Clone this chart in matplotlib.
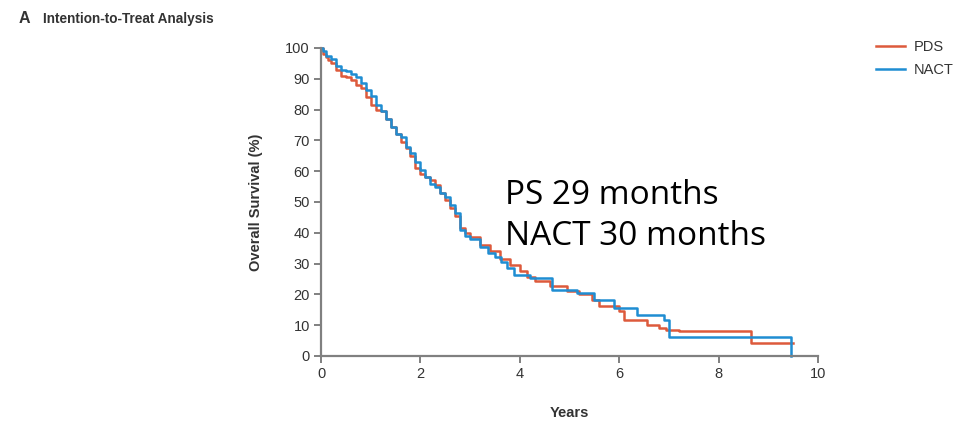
import matplotlib.pyplot as plt
import matplotlib.ticker as ticker

# 全体のフォント
plt.rcParams['font.family'] = ['Liberation Sans', 'DejaVu Sans']

# 読み取った生存曲線 (年, %)
pds_years = [0, 0.05, 0.1, 0.15, 0.2, 0.3, 0.4, 0.5, 0.6, 0.7, 0.8, 0.9, 1.0, 1.1, 1.2,
             1.3, 1.4, 1.5, 1.6, 1.7, 1.8, 1.9, 2.0, 2.1, 2.2, 2.3, 2.4, 2.5, 2.6,
             2.7, 2.8, 2.9, 3.0, 3.2, 3.4, 3.6, 3.8, 4.0, 4.15, 4.3, 4.6, 4.95,
             5.2, 5.45, 5.6, 6.0, 6.1, 6.55, 6.8, 6.95, 7.2, 8.65, 9.5]
pds_surv = [100, 98, 97, 96, 95, 93, 91, 90.5, 89.5, 88, 87, 84, 81.5, 80, 79.5,
            77, 74.5, 72, 69.5, 67.5, 65, 61, 59, 58, 57, 55.5, 53, 50.5, 48,
            45.5, 41.5, 40, 38.5, 36, 34, 31.5, 29.5, 27.5, 25.5, 24.2, 22.6, 21,
            20, 18.3, 16.1, 14.5, 11.8, 10.2, 9.1, 8.6, 8.2, 4.2, 4.2]

nact_years = [0, 0.05, 0.1, 0.2, 0.3, 0.4, 0.5, 0.6, 0.7, 0.8, 0.9, 1.0, 1.1, 1.2,
              1.3, 1.4, 1.5, 1.6, 1.7, 1.8, 1.9, 2.0, 2.1, 2.2, 2.3, 2.4, 2.5,
              2.6, 2.7, 2.8, 2.9, 3.0, 3.2, 3.35, 3.5, 3.62, 3.75, 3.88, 4.2, 4.65, 5.15,
              5.5, 5.9, 6.35, 6.9, 7.0, 9.45, 9.46]
nact_surv = [100, 99, 97.5, 96.5, 94, 93, 92.5, 91.5, 90.5, 88.5, 86.5, 84.5, 81.5, 79.5,
             77, 74.5, 72, 71, 68, 66, 63, 60.5, 58, 56, 55, 53, 51.5,
             49, 46.5, 41, 39, 38, 35.5, 33.5, 32.3, 30.6, 28.5, 26.4, 25.3, 21.5, 20.4,
             18.3, 15.6, 13.4, 11.8, 6.3, 6.3, 0]

x_ticks = [0, 2, 4, 6, 8, 10]
y_ticks = list(range(0, 101, 10))

RED = '#dd5a3c'
BLUE = '#1f8dd2'
AXIS_GRAY = '#808080'
TEXT_DARK = '#333333'

fig = plt.figure(figsize=(9.64, 4.21), dpi=100)
ax = fig.add_axes([0.333, 0.1544, 0.5156, 0.7316])

ax.step(pds_years, pds_surv, where='post', color=RED, lw=1.8, label='PDS', clip_on=False)
ax.step(nact_years, nact_surv, where='post', color=BLUE, lw=1.8, label='NACT', clip_on=False)

ax.set_xlim(0, 10)
ax.set_ylim(0, 100)
ax.set_xticks(x_ticks)
ax.set_yticks(y_ticks)

for side in ['top', 'right']:
    ax.spines[side].set_visible(False)
for side in ['left', 'bottom']:
    ax.spines[side].set_color(AXIS_GRAY)
    ax.spines[side].set_linewidth(1.6)

ax.tick_params(direction='out', length=5, width=1.4, color=AXIS_GRAY,
               labelcolor=TEXT_DARK, labelsize=10.5, pad=3)

ax.set_ylabel('Overall Survival (%)', fontsize=10.5, fontweight='bold',
              color=TEXT_DARK, labelpad=16)
ax.set_xlabel('Years', fontsize=10.5, fontweight='bold', color=TEXT_DARK, labelpad=18)

# 中央値の注記
fig.text(0.524, 0.487, 'PS 29 months\nNACT 30 months', fontsize=24,
         family=['Open Sans', 'DejaVu Sans'], color='black',
         linespacing=1.32, va='center', ha='left')

# パネルタイトル
fig.text(0.019, 0.955, 'A', fontsize=11.5, fontweight='bold', color=TEXT_DARK, va='center')
fig.text(0.045, 0.955, 'Intention-to-Treat Analysis', fontsize=9.8, fontweight='bold',
         color=TEXT_DARK, va='center')

# 凡例
fig.legend(loc='upper left', bbox_to_anchor=(0.903, 0.918), frameon=False,
           fontsize=10.5, handlelength=2.0, handletextpad=0.6, labelspacing=0.6,
           labelcolor=TEXT_DARK, borderaxespad=0)

fig.savefig('out.png', dpi=100)
